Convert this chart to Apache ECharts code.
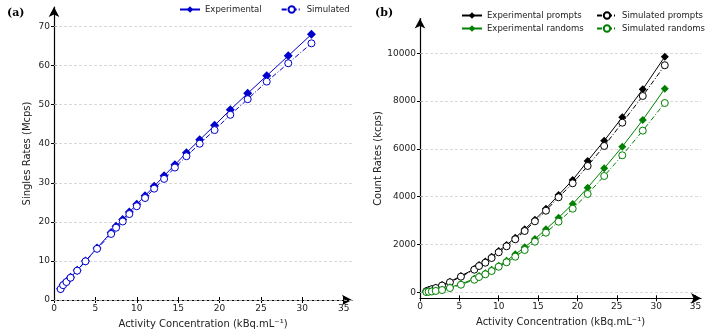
<!DOCTYPE html>
<html>
<head>
<meta charset="utf-8">
<script src="https://cdn.jsdelivr.net/npm/echarts@6/dist/echarts.min.js"></script>
<style>
  html, body { margin: 0; padding: 0; background: #fff; }
  #chart { width: 708px; height: 334px; }
</style>
</head>
<body>
<div id="chart"></div>
<script>
// activity concentration (kBq/mL) shared by both panels
const concentration = [0.8, 1.1, 1.5, 2.0, 2.8, 3.8, 5.2, 6.9, 7.5, 8.3, 9.1, 10.0, 11.0, 12.1, 13.3, 14.6, 16.0, 17.6, 19.4, 21.3, 23.4, 25.7, 28.3, 31.1];

// panel (a): singles rates, Mcps
const singlesExperimental = [2.9, 3.9, 4.7, 5.8, 7.6, 10.0, 13.3, 17.3, 18.9, 20.6, 22.5, 24.5, 26.7, 29.1, 31.8, 34.6, 37.7, 41.0, 44.7, 48.7, 52.9, 57.4, 62.5, 68.0];
const singlesSimulated = [2.8, 3.8, 4.6, 5.7, 7.5, 9.9, 13.1, 16.9, 18.5, 20.1, 22.0, 24.0, 26.1, 28.5, 31.0, 33.9, 36.8, 40.0, 43.5, 47.4, 51.4, 55.9, 60.6, 65.7];

// panel (b): count rates, kcps
const promptsExperimental = [55, 95, 140, 195, 305, 445, 685, 975, 1140, 1285, 1490, 1730, 1980, 2285, 2635, 3040, 3500, 4071, 4699, 5494, 6343, 7322, 8494, 9858];
const promptsSimulated = [45, 85, 128, 180, 285, 420, 655, 947, 1100, 1239, 1435, 1674, 1925, 2218, 2565, 2970, 3414, 3975, 4561, 5285, 6121, 7096, 8213, 9498];
const randomsExperimental = [15, 28, 42, 67, 109, 209, 347, 569, 682, 795, 946, 1113, 1322, 1590, 1883, 2235, 2636, 3121, 3695, 4377, 5188, 6092, 7209, 8519];
const randomsSimulated = [12, 24, 36, 58, 96, 180, 318, 527, 640, 753, 891, 1071, 1255, 1490, 1770, 2117, 2494, 2954, 3498, 4113, 4866, 5732, 6762, 7920];

// tick labels
const concentrationTicks = [0, 5, 10, 15, 20, 25, 30, 35];
const singlesTicks = [0, 10, 20, 30, 40, 50, 60, 70];
const countTicks = [0, 2000, 4000, 6000, 8000, 10000];

const FONT = 'DejaVu Sans';
const BLUE = '#0000cd';
const GREEN = '#008000';
const DASH_DOT = [5, 2, 1, 2];

const pairs = (ys) => concentration.map((x, i) => [x, ys[i]]);

function xAxisFor(gridIndex, max) {
  return {
    type: 'value',
    gridIndex,
    position: 'bottom',
    min: 0,
    max,
    name: 'Activity Concentration (kBq.mL⁻¹)',
    nameLocation: 'middle',
    nameGap: 19,
    nameTextStyle: { fontFamily: FONT, fontSize: 10, color: '#222' },
    axisLine: { onZero: false, lineStyle: { color: '#000', width: 1.2 }, symbol: ['none', 'arrow'], symbolSize: [8, 10] },
    axisTick: { length: 3, lineStyle: { color: '#000' }, customValues: concentrationTicks },
    axisLabel: { fontFamily: FONT, fontSize: 9, color: '#222', margin: 4, customValues: concentrationTicks },
    splitLine: { show: false },
  };
}

function yAxisFor(gridIndex, min, max, name, nameGap, ticks) {
  return {
    type: 'value',
    gridIndex,
    position: 'left',
    min,
    max,
    name,
    nameLocation: 'middle',
    nameGap,
    nameTextStyle: { fontFamily: FONT, fontSize: 10, color: '#222' },
    axisLine: { onZero: false, lineStyle: { color: '#000', width: 1.2 }, symbol: ['none', 'arrow'], symbolSize: [8, 10] },
    axisTick: { length: 3, lineStyle: { color: '#000' }, customValues: ticks },
    axisLabel: { fontFamily: FONT, fontSize: 9, color: '#222', margin: 4, customValues: ticks, formatter: (v) => String(v) },
    splitLine: { show: false },
  };
}

// same range again, only to draw the inner half of the crossing tick marks
function innerTicks(axis) {
  return Object.assign({}, axis, {
    name: '',
    axisLine: { show: false, onZero: false },
    axisLabel: { show: false },
    axisTick: { inside: true, length: 3, lineStyle: { color: '#000' }, customValues: axis.axisTick.customValues },
  });
}

function gridLines(ticks) {
  return {
    silent: true,
    symbol: 'none',
    animation: false,
    label: { show: false },
    lineStyle: { color: '#cfcfcf', type: [3, 2], width: 0.8 },
    data: ticks.map((v) => ({ yAxis: v })),
    z: 1,
  };
}

function lineSeries(name, idx, ys, color, filled, size, extra) {
  return Object.assign({
    name,
    type: 'line',
    xAxisIndex: idx,
    yAxisIndex: idx,
    data: pairs(ys),
    symbol: filled ? 'diamond' : 'circle',
    symbolSize: size,
    showSymbol: true,
    color,
    lineStyle: { color, width: 1, type: filled ? 'solid' : DASH_DOT },
    itemStyle: filled ? { color, borderWidth: 0 } : { color: '#fff', borderColor: color, borderWidth: 1 },
    z: 3,
  }, extra || {});
}

const chart = echarts.init(document.getElementById('chart'), null, { renderer: 'canvas' });

const legendText = { fontFamily: FONT, fontSize: 8.5, color: '#222' };

const xAxes = [xAxisFor(0, 36), xAxisFor(1, 35.7)];
const yAxes = [
  yAxisFor(0, 0, 75, 'Singles Rates (Mcps)', 22, singlesTicks),
  yAxisFor(1, -250, 11450, 'Count Rates (kcps)', 34, countTicks),
];

chart.setOption({
  animation: false,
  backgroundColor: '#fff',
  title: [
    { text: '(a)', left: 2, top: 3, textStyle: { fontFamily: 'DejaVu Serif', fontWeight: 'bold', fontSize: 11, color: '#000' } },
    { text: '(b)', left: 370, top: 3, textStyle: { fontFamily: 'DejaVu Serif', fontWeight: 'bold', fontSize: 11, color: '#000' } },
  ],
  legend: [
    {
      left: 174, top: 0, itemWidth: 20, itemHeight: 8, itemGap: 19,
      textStyle: legendText,
      data: ['Experimental', 'Simulated'],
    },
    {
      orient: 'vertical', left: 456, top: 6, itemWidth: 20, itemHeight: 8, itemGap: 4,
      textStyle: legendText,
      data: ['Experimental prompts', 'Experimental randoms'],
    },
    {
      orient: 'vertical', left: 591, top: 6, itemWidth: 20, itemHeight: 8, itemGap: 4,
      textStyle: legendText,
      data: ['Simulated prompts', 'Simulated randoms'],
    },
  ],
  grid: [
    { left: 54, top: 7, width: 298, height: 295 },
    { left: 420, top: 18.6, width: 281, height: 279.7 },
  ],
  xAxis: xAxes.concat(xAxes.map(innerTicks)),
  yAxis: yAxes.concat(yAxes.map(innerTicks)),
  series: [
    lineSeries('Experimental', 0, singlesExperimental, BLUE, true, 9, { markLine: gridLines(singlesTicks) }),
    lineSeries('Simulated', 0, singlesSimulated, BLUE, false, 7),
    lineSeries('Experimental prompts', 1, promptsExperimental, '#000', true, 8, { markLine: gridLines(countTicks) }),
    lineSeries('Simulated prompts', 1, promptsSimulated, '#000', false, 7),
    lineSeries('Experimental randoms', 1, randomsExperimental, GREEN, true, 8),
    lineSeries('Simulated randoms', 1, randomsSimulated, GREEN, false, 7),
  ],
});
</script>
</body>
</html>
